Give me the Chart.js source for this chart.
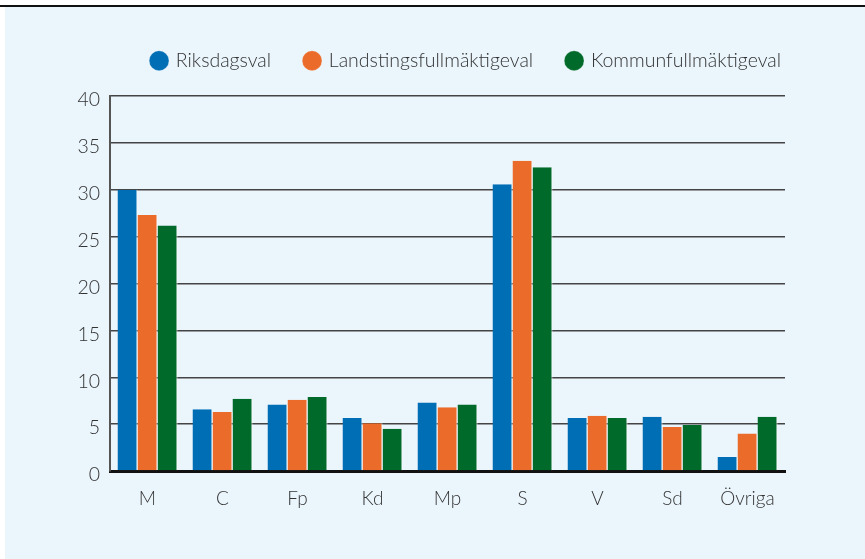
<!DOCTYPE html>
<html>
<head>
<meta charset="utf-8">
<script src="https://cdn.jsdelivr.net/npm/chart.js@4/dist/chart.umd.min.js"></script>
<style>
  body { margin: 0; background: #fff; }
  #topline { position: absolute; left: 0; top: 5px; width: 865px; height: 2px; background: #111; }
  #panel { position: absolute; left: 5px; top: 7px; width: 860px; height: 552px; background: #eaf5fc; }
  #wrap { position: absolute; left: 0; top: 0; width: 865px; height: 559px; }
</style>
</head>
<body>
<div id="topline"></div>
<div id="panel"></div>
<div id="wrap"><canvas id="chart"></canvas></div>
<script>
const parties = ['M', 'C', 'Fp', 'Kd', 'Mp', 'S', 'V', 'Sd', 'Övriga'];
const riksdag = [30.0, 6.6, 7.1, 5.65, 7.3, 30.6, 5.65, 5.8, 1.5];
const landsting = [27.3, 6.3, 7.6, 5.1, 6.8, 33.1, 5.9, 4.7, 4.0];
const kommun = [26.2, 7.7, 7.9, 4.5, 7.1, 32.4, 5.65, 4.9, 5.8];
const seriesNames = ['Riksdagsval', 'Landstingsfullmäktigeval', 'Kommunfullmäktigeval'];
const colors = ['#006eb4', '#eb6b2a', '#006a2a'];

// legend: fixed height, and pushed right to sit over the plot
const legendSpace = {
    id: 'legendSpace',
    beforeInit(chart) {
        const fit = chart.legend.fit;
        chart.legend.fit = function () {
            fit.bind(chart.legend)();
            this.height = 79;
        };
    },
    afterLayout(chart) {
        chart.legend.left += 30;
        chart.legend.right += 30;
    }
};

const ctx = document.getElementById('chart').getContext('2d');

function makeSet(i, values) {
    return {
        label: seriesNames[i],
        data: values,
        backgroundColor: colors[i],
        borderColor: '#ffffff',
        borderWidth: { left: 0, right: 1, top: 0, bottom: 0 },
        borderSkipped: false,
        categoryPercentage: 0.8,
        barPercentage: 1.0
    };
}

const chart = new Chart(ctx, {
    type: 'bar',
    data: {
        labels: parties,
        datasets: [makeSet(0, riksdag), makeSet(1, landsting), makeSet(2, kommun)]
    },
    plugins: [legendSpace],
    options: {
        responsive: true,
        maintainAspectRatio: false,
        animation: false,
        layout: { padding: { top: 17, right: 80, bottom: 0, left: 0 } },
        plugins: {
            tooltip: { enabled: false },
            legend: {
                position: 'top',
                align: 'end',
                labels: {
                    usePointStyle: true,
                    pointStyle: 'circle',
                    boxWidth: 14,
                    boxHeight: 14,
                    padding: 34,
                    color: '#333',
                    font: { family: 'Lato', size: 19.5, weight: 300 }
                }
            }
        },
        scales: {
            x: {
                grid: { display: false },
                border: { display: true, color: '#111', width: 3 },
                ticks: { color: '#333', padding: 8, font: { family: 'Lato', size: 19, weight: 300 } },
                afterFit: s => { s.height = 88; }
            },
            y: {
                min: 0,
                max: 40,
                ticks: { stepSize: 5, color: '#333', padding: 10, labelOffset: 4, font: { family: 'Lato', size: 19.5, weight: 300 } },
                grid: { color: '#444', lineWidth: 1.5, drawTicks: false },
                border: { display: true, color: '#555', width: 2 },
                afterFit: s => { s.width = 110; }
            }
        }
    }
});
</script>
</body>
</html>
